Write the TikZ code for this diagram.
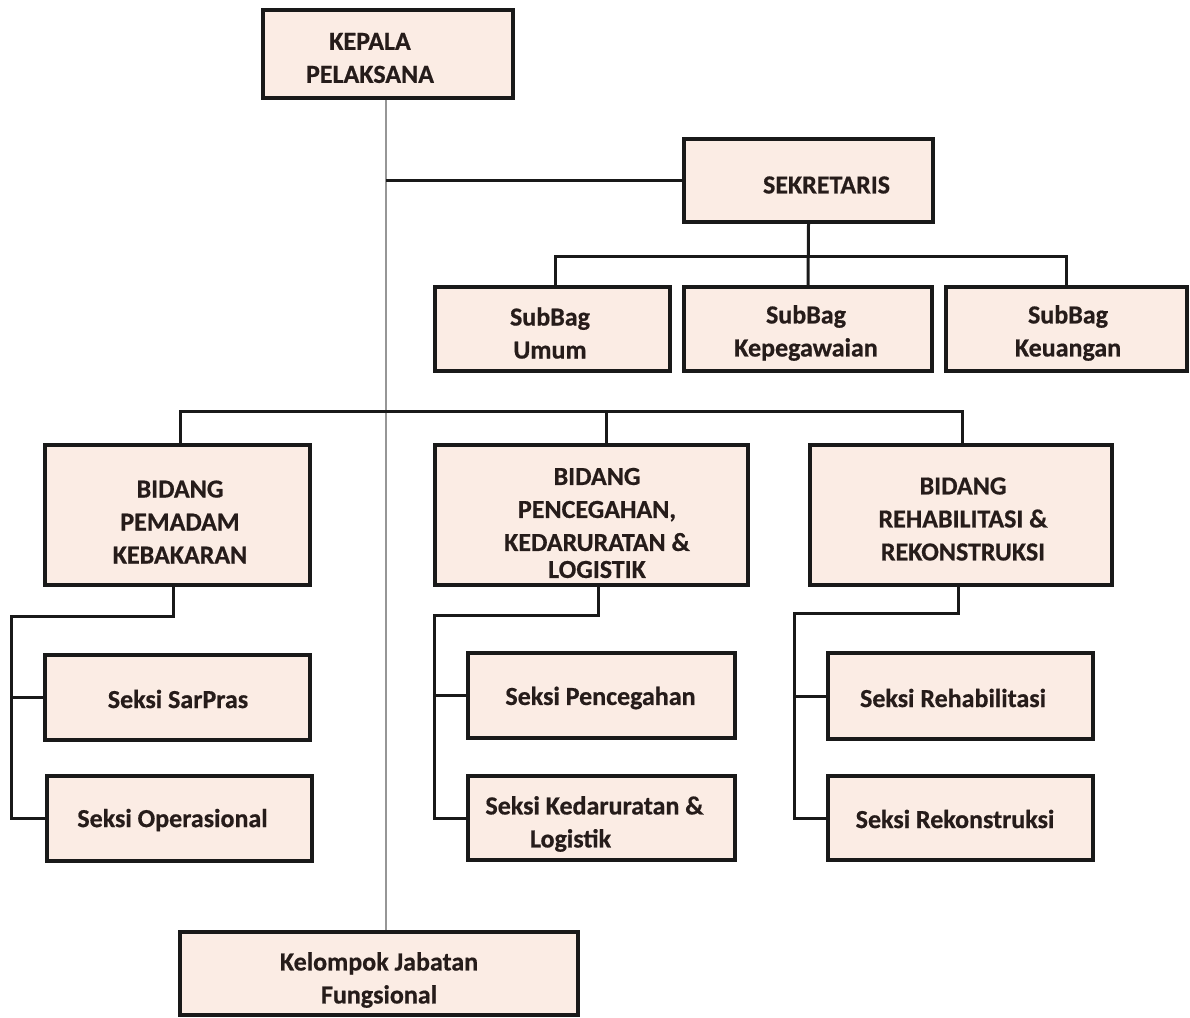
\documentclass[tikz,border=0pt]{standalone}
\usepackage{fontspec}
\setmainfont{Carlito}[BoldFeatures={FakeBold=0.6}]
\usetikzlibrary{calc}
\definecolor{boxfill}{RGB}{251,236,228}
\definecolor{txtcol}{RGB}{38,28,26}
\definecolor{thin}{RGB}{150,150,150}
\tikzset{
  box/.style={draw=black!90, line width=3.6pt, fill=boxfill, rectangle, inner sep=0pt},
  txt/.style={font=\bfseries\fontsize{26}{33}\selectfont, align=center, inner sep=0pt, text=txtcol},
  conn/.style={draw=black!90, line width=3pt},
  thinline/.style={draw=thin, line width=1.1pt}
}
\begin{document}
\begin{tikzpicture}[x=1pt,y=-1pt]
\useasboundingbox (0,0) rectangle (1190,1017);
% boxes
\node[box, minimum width=250, minimum height=88] (kepala) at (388,54) {};
\node[box, minimum width=249, minimum height=83] (sek) at (808.5,180.5) {};
\node[box, minimum width=235, minimum height=84] (umum) at (552.5,329) {};
\node[box, minimum width=248, minimum height=84] (pegawai) at (808,329) {};
\node[box, minimum width=241, minimum height=84] (uang) at (1066.5,329) {};
\node[box, minimum width=265, minimum height=140] (bpm) at (177.5,515) {};
\node[box, minimum width=313, minimum height=140] (bpc) at (591.5,515) {};
\node[box, minimum width=302, minimum height=140] (brr) at (961,515) {};
\node[box, minimum width=265, minimum height=85] (s1) at (177.5,697.5) {};
\node[box, minimum width=265, minimum height=85] (s2) at (179.5,818.5) {};
\node[box, minimum width=267, minimum height=85] (s3) at (601.5,695.5) {};
\node[box, minimum width=267, minimum height=84] (s4) at (601.5,818) {};
\node[box, minimum width=265, minimum height=86] (s5) at (960.5,696) {};
\node[box, minimum width=265, minimum height=84] (s6) at (960.5,818) {};
\node[box, minimum width=398, minimum height=83] (kel) at (379,973.5) {};
% texts
\node[txt] (tkepala) at (370,58) {KEPALA\\PELAKSANA};
\node[txt] (tsek) at (826.5,185) {SEKRETARIS};
\node[txt] (tumum) at (550,333) {SubBag\\Umum};
\node[txt] (tpegawai) at (806,333) {SubBag\\Kepegawaian};
\node[txt] (tuang) at (1068,333) {SubBag\\Keuangan};
\node[txt] (tbpm) at (180,522) {BIDANG\\PEMADAM\\KEBAKARAN};
\node[txt] (tbpc) at (597,523) {BIDANG\\PENCEGAHAN,\\KEDARURATAN \&\\[-6pt]LOGISTIK};
\node[txt] (tbrr) at (963,519) {BIDANG\\REHABILITASI \&\\REKONSTRUKSI};
\node[txt] (ts1) at (178,699) {Seksi SarPras};
\node[txt] (ts2) at (172.5,820) {Seksi Operasional};
\node[txt] (ts3) at (600.5,698) {Seksi Pencegahan};
\node[txt] (ts4) at (594.5,824) {Seksi Kedaruratan \&\\Logistik\hspace*{48pt}};
\node[txt] (ts5) at (953,698) {Seksi Rehabilitasi};
\node[txt] (ts6) at (955,819) {Seksi Rekonstruksi};
\node[txt] (tkel) at (379,980) {Kelompok Jabatan\\Fungsional};
% coordinates
\coordinate (bA) at (0,256);
\coordinate (bB) at (0,411);
\coordinate (jA) at (11,616);
\coordinate (jB) at (434,615);
\coordinate (jC) at (794,613);
\coordinate (ctop) at ([xshift=-2]kepala.south);
\coordinate (umumN) at ([xshift=2.5]umum.north);
\coordinate (bpmN) at ([xshift=2.5]bpm.north);
\coordinate (brrN) at ([xshift=1.5]brr.north);
\coordinate (bpcN) at ([xshift=14.5]bpc.north);
\coordinate (bpmS) at ([xshift=-4.5]bpm.south);
\coordinate (bpcS) at ([xshift=6.5]bpc.south);
\coordinate (brrS) at ([xshift=-3]brr.south);
% central thin line
\draw[thinline] (ctop) -- (ctop |- kel.north);
% connectors
\draw[conn] (sek.west) -- (sek.west -| ctop);
\draw[conn] (sek.south) -- (pegawai.north);
\draw[conn] (umumN) -- (umumN |- bA) -| (uang.north);
\draw[conn] (bpmN) -- (bpmN |- bB) -| (brrN);
\draw[conn] (bpcN |- bB) -- (bpcN);
\draw[conn] (bpmS) |- (jA) |- (s2.west);
\draw[conn] (jA |- s1.west) -- (s1.west);
\draw[conn] (bpcS) |- (jB) |- (s4.west);
\draw[conn] (jB |- s3.west) -- (s3.west);
\draw[conn] (brrS) |- (jC) |- (s6.west);
\draw[conn] (jC |- s5.west) -- (s5.west);
\end{tikzpicture}
\end{document}
